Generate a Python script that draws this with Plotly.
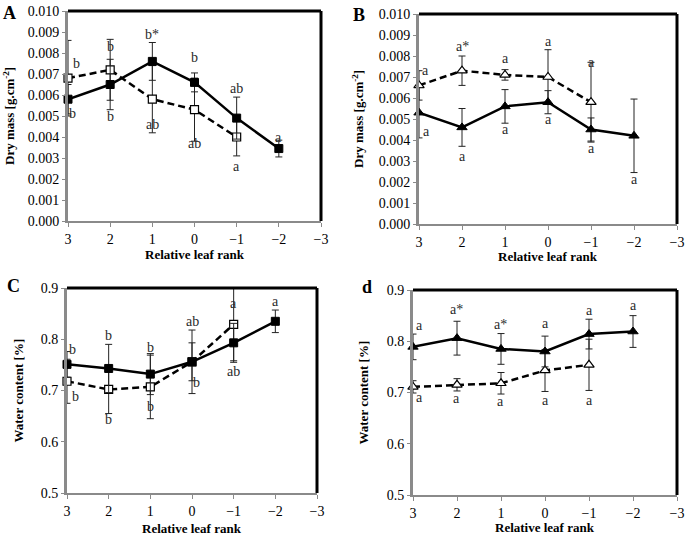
import plotly.graph_objects as go

# ---------------- data ----------------
rank_solid = [3, 2, 1, 0, -1, -2]
rank_dash = [3, 2, 1, 0, -1]

# Panel A : dry mass, squares
A_solid = [0.0058, 0.0065, 0.0076, 0.0066, 0.0049, 0.00345]
A_solid_err = [0.0007, 0.0012, 0.0009, 0.00045, 0.0010, 0.0004]
A_dash = [0.0068, 0.0072, 0.0058, 0.0053, 0.0040]
A_dash_err = [0.0018, 0.00145, 0.0016, 0.0015, 0.0009]

# Panel B : dry mass, triangles
B_solid = [0.0053, 0.0046, 0.0056, 0.0058, 0.0045, 0.0042]
B_solid_err = [0.0012, 0.0009, 0.0008, 0.00055, 0.00055, 0.00175]
B_dash = [0.0066, 0.0073, 0.0071, 0.0070, 0.0058]
B_dash_err = [0.0007, 0.0007, 0.00025, 0.0013, 0.0019]

# Panel C : water content, squares
C_solid = [0.751, 0.743, 0.732, 0.756, 0.793, 0.835]
C_solid_err = [0.025, 0.047, 0.040, 0.037, 0.038, 0.022]
C_dash = [0.718, 0.702, 0.707, 0.756, 0.829]
C_dash_err = [0.043, 0.047, 0.062, 0.062, 0.071]

# Panel d : water content, triangles
D_solid = [0.789, 0.806, 0.785, 0.780, 0.814, 0.819]
D_solid_err = [0.025, 0.033, 0.030, 0.030, 0.029, 0.031]
D_dash = [0.711, 0.715, 0.718, 0.743, 0.754]
D_dash_err = [0.012, 0.012, 0.021, 0.041, 0.050]

# significance letters (x rank, y value, text)
A_lab_x = [2.8, 2, 1, 0, -1, -2, 2.9, 2, 1, 0, -1]
A_lab_y = [0.0075, 0.0083, 0.0089, 0.0078, 0.0063, 0.0040, 0.0051, 0.0050, 0.0046, 0.0037, 0.0026]
A_lab_t = ["b", "b", "b*", "b", "ab", "a", "b", "b", "ab", "ab", "a"]

B_lab_x = [2.84, 2, 1, 0, -1, 2.83, 2, 1, 0, -1, -2]
B_lab_y = [0.0073, 0.00844, 0.0079, 0.0087, 0.0077, 0.0044, 0.0032, 0.0045, 0.0050, 0.0036, 0.0021]
B_lab_t = ["a", "a*", "a", "a", "a", "a", "a", "a", "a", "a", "a"]

C_lab_x = [2.88, 2, 1, 0, -1, -2, 2.8, 2, 1, -0.11, -1]
C_lab_y = [0.780, 0.808, 0.784, 0.834, 0.870, 0.873, 0.688, 0.644, 0.668, 0.716, 0.738]
C_lab_t = ["b", "b", "b", "ab", "a", "a", "b", "b", "b", "b", "ab"]

D_lab_x = [2.86, 2, 1, 0, -1, -2, 2.86, 2, 1, 0, -1]
D_lab_y = [0.830, 0.861, 0.832, 0.834, 0.860, 0.869, 0.691, 0.689, 0.683, 0.685, 0.685]
D_lab_t = ["a", "a*", "a*", "a", "a", "a", "a", "a", "a", "a", "a"]

x_tick_vals = [3, 2, 1, 0, -1, -2, -3]
dry_ticks = [0.000, 0.001, 0.002, 0.003, 0.004, 0.005, 0.006, 0.007, 0.008, 0.009, 0.010]
water_ticks = [0.5, 0.6, 0.7, 0.8, 0.9]

panel_letters = ["A", "B", "C", "d"]
y_titles = ["Dry mass [g.cm<sup>-2</sup>]", "Dry mass [g.cm<sup>-2</sup>]",
            "Water content [%]", "Water content [%]"]
x_title = "Relative leaf rank"

# ---------------- layout geometry (pixels) ----------------
W, H = 685, 539
boxes = [  # left, right, top, bottom in px
    (68, 321, 11, 221),
    (419, 677, 14, 224),
    (67, 317, 288, 493),
    (413, 677, 290, 495),
]
letter_pos = [(9, 13), (359, 15), (13, 286), (367, 287)]
ytitle_x = [9, 358, 18, 363]
xtitle_y = [255, 256, 528, 527]
FONT = "Liberation Serif"


def px(xp):
    return xp / W


def py(yp):
    return 1 - yp / H


fig = go.Figure()

panels = [
    (A_solid, A_solid_err, A_dash, A_dash_err, "square", (A_lab_x, A_lab_y, A_lab_t), [0, 0.010], dry_ticks, ".3f"),
    (B_solid, B_solid_err, B_dash, B_dash_err, "triangle-up", (B_lab_x, B_lab_y, B_lab_t), [0, 0.010], dry_ticks, ".3f"),
    (C_solid, C_solid_err, C_dash, C_dash_err, "square", (C_lab_x, C_lab_y, C_lab_t), [0.5, 0.9], water_ticks, ".1f"),
    (D_solid, D_solid_err, D_dash, D_dash_err, "triangle-up", (D_lab_x, D_lab_y, D_lab_t), [0.5, 0.9], water_ticks, ".1f"),
]

annotations = []
shapes = []
for i, (ys, yse, yd, yde, sym, labs, yr, yt, fmt) in enumerate(panels):
    n = i + 1
    xa = "x" if n == 1 else f"x{n}"
    ya = "y" if n == 1 else f"y{n}"
    l, r, t, b = boxes[i]
    err_style = dict(type="data", visible=True, thickness=1, width=3.5, color="#222")
    msize = 8 if sym == "square" else 9
    fig.add_trace(go.Scatter(
        x=rank_dash, y=yd, mode="lines+markers", xaxis=xa, yaxis=ya,
        line=dict(color="black", width=2.5, dash="7px,4px"),
        marker=dict(symbol=sym, size=msize, color="white", line=dict(color="black", width=1.2)),
        error_y=dict(array=yde, **err_style), cliponaxis=False, showlegend=False))
    fig.add_trace(go.Scatter(
        x=rank_solid, y=ys, mode="lines+markers", xaxis=xa, yaxis=ya,
        line=dict(color="black", width=2.5),
        marker=dict(symbol=sym, size=msize, color="black", line=dict(color="black", width=1)),
        error_y=dict(array=yse, **err_style), cliponaxis=False, showlegend=False))

    xdom = [px(l), px(r)]
    ydom = [py(b), py(t)]
    fig.update_layout({
        ("xaxis" if n == 1 else f"xaxis{n}"): dict(
            domain=xdom, range=[3, -3], anchor=ya, tickvals=x_tick_vals,
            showgrid=False, zeroline=False, showline=True, linecolor="#8a8a8a", linewidth=2,
            ticks="outside", ticklen=4, tickcolor="#8a8a8a", automargin=False,
            ticklabeloverflow="allow",
            tickfont=dict(family=FONT, size=14, color="black")),
        ("yaxis" if n == 1 else f"yaxis{n}"): dict(
            domain=ydom, range=yr, anchor=xa, tickvals=yt, tickformat=fmt,
            showgrid=False, zeroline=False, showline=True, linecolor="#8a8a8a", linewidth=3,
            ticks="outside", ticklen=3, tickcolor="#8a8a8a", automargin=False,
            tickfont=dict(family=FONT, size=14, color="black")),
    })
    # top and right border of plot area
    shapes.append(dict(type="line", xref="paper", yref="paper", x0=xdom[0], x1=xdom[1],
                       y0=ydom[1], y1=ydom[1], line=dict(color="black", width=3)))
    shapes.append(dict(type="line", xref="paper", yref="paper", x0=xdom[1], x1=xdom[1],
                       y0=ydom[0], y1=ydom[1], line=dict(color="black", width=3)))

    # significance letters
    for lx, ly, lt in zip(*labs):
        annotations.append(dict(x=lx, y=ly, xref=xa, yref=ya, text=lt, showarrow=False,
                                xanchor="center", yanchor="middle",
                                font=dict(family=FONT, size=14, color="#2a2a2a")))
    # axis titles
    annotations.append(dict(x=px((l + r) / 2), y=py(xtitle_y[i]), xref="paper", yref="paper",
                            text=f"<b>{x_title}</b>", showarrow=False,
                            xanchor="center", yanchor="middle",
                            font=dict(family=FONT, size=13, color="black")))
    annotations.append(dict(x=px(ytitle_x[i]), y=py((t + b) / 2), xref="paper", yref="paper",
                            text=f"<b>{y_titles[i]}</b>", textangle=-90, showarrow=False,
                            xanchor="center", yanchor="middle",
                            font=dict(family=FONT, size=13, color="black")))
    # panel letter
    lxp, lyp = letter_pos[i]
    annotations.append(dict(x=px(lxp), y=py(lyp), xref="paper", yref="paper",
                            text=f"<b>{panel_letters[i]}</b>", showarrow=False,
                            xanchor="center", yanchor="middle",
                            font=dict(family=FONT, size=18, color="black")))

fig.update_layout(width=W, height=H, margin=dict(l=0, r=0, t=0, b=0, pad=0),
                  paper_bgcolor="white", plot_bgcolor="white",
                  annotations=annotations, shapes=shapes)

fig.write_html("out.html", config={"displayModeBar": False},
               post_script="document.body.style.margin='0';document.body.style.padding='0';"
                           "document.body.style.overflow='hidden';")
